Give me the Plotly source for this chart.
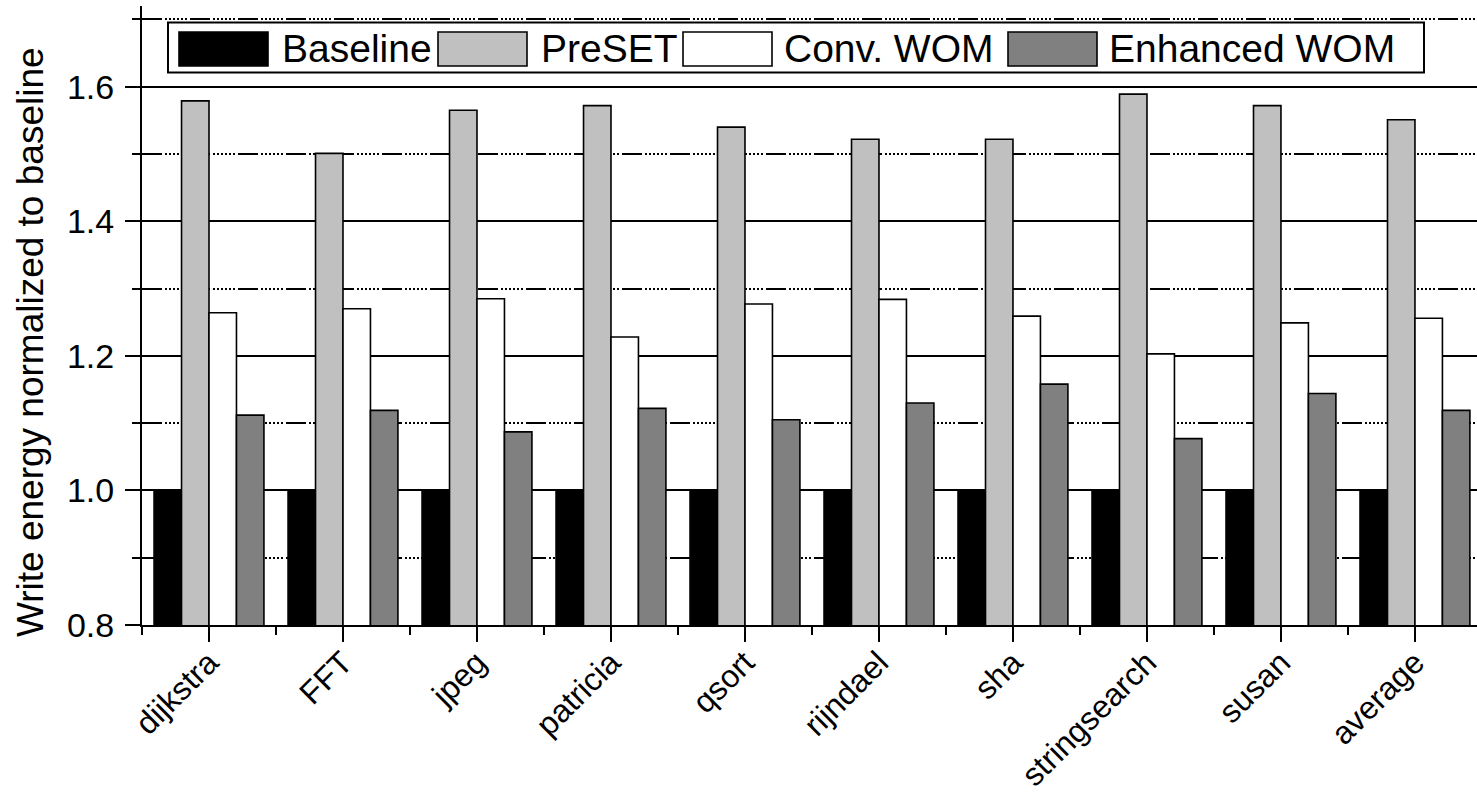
import plotly.graph_objects as go

categories = ["dijkstra", "FFT", "jpeg", "patricia", "qsort", "rijndael", "sha",
              "stringsearch", "susan", "average"]
series_names = ["Baseline", "PreSET", "Conv. WOM", "Enhanced WOM"]
baseline = [1.0, 1.0, 1.0, 1.0, 1.0, 1.0, 1.0, 1.0, 1.0, 1.0]
preset = [1.579, 1.501, 1.565, 1.572, 1.540, 1.522, 1.522, 1.589, 1.572, 1.551]
conv_wom = [1.264, 1.270, 1.285, 1.228, 1.277, 1.284, 1.259, 1.203, 1.249, 1.256]
enhanced_wom = [1.112, 1.119, 1.087, 1.122, 1.105, 1.130, 1.158, 1.077, 1.144, 1.119]
y_title = "Write energy normalized to baseline"

series_values = [baseline, preset, conv_wom, enhanced_wom]
colors = ["#000000", "#c0c0c0", "#ffffff", "#808080"]

FONT = "Liberation Sans, Arial, sans-serif"
W, H = 1477, 792
L, R, T, B = 142, 0, 6, 167
PW, PH = W - L - R, H - T - B

def px_x(p):
    return (p - L) / PW

def px_y(p):
    return (H - B - p) / PH

idx = list(range(len(categories)))

fig = go.Figure()
for name, vals, col in zip(series_names, series_values, colors):
    fig.add_trace(go.Bar(
        x=idx, y=vals, name=name,
        marker=dict(color=col, line=dict(color="#000000", width=1.6)),
        showlegend=False,
    ))

grid_dash = "20px,3px,2px,2px,2px,2px,2px,2px,2px,2px,2px,2px,2px,3px"

fig.update_layout(
    width=W, height=H,
    margin=dict(l=L, r=R, t=T, b=B, pad=0, autoexpand=False),
    paper_bgcolor="white", plot_bgcolor="white",
    barmode="group", bargap=0.18, bargroupgap=0,
    font=dict(family=FONT, color="black", size=33),
)

fig.update_xaxes(
    range=[-0.5, 9.463], automargin=False,
    tickmode="array", tickvals=idx, ticktext=categories,
    tickangle=-45,
    tickfont=dict(family=FONT, size=32, color="black"),
    ticklabelstandoff=-11,
    ticks="outside", ticklen=15, tickwidth=2, tickcolor="black",
    showline=True, linecolor="black", linewidth=2,
    showgrid=False, zeroline=False,
    minor=dict(tickmode="linear", tick0=-0.5, dtick=1, ticks="outside",
               ticklen=8, tickwidth=2, tickcolor="black", showgrid=False),
)

fig.update_yaxes(
    range=[0.8, 1.72], automargin=False,
    tickmode="linear", tick0=0.8, dtick=0.2, tickformat=".1f",
    tickfont=dict(family=FONT, size=34, color="black"),
    ticks="outside", ticklen=15, tickwidth=2, tickcolor="black",
    ticklabelstandoff=4,
    showline=True, linecolor="black", linewidth=2,
    showgrid=True, gridcolor="black", gridwidth=1.5,
    zeroline=False,
    minor=dict(tickmode="linear", tick0=0.8, dtick=0.1, ticks="outside",
               ticklen=8, tickwidth=2, tickcolor="black",
               showgrid=True, gridcolor="black", gridwidth=1.5,
               griddash=grid_dash),
)

# axis title
fig.add_annotation(
    text=y_title, xref="paper", yref="paper",
    x=px_x(30), y=px_y(342), xanchor="center", yanchor="middle",
    textangle=-90, showarrow=False,
    font=dict(family=FONT, size=37, color="black"),
)

# custom legend box
shapes = [dict(type="rect", xref="paper", yref="paper",
               x0=px_x(168), x1=px_x(1424), y0=px_y(72.5), y1=px_y(22.5),
               fillcolor="white", line=dict(color="black", width=2), layer="above")]
swatch_x = [179, 438, 683, 1008]
text_x = [280, 539, 782, 1107]
sw_w = 89
for name, col, sx, tx in zip(series_names, colors, swatch_x, text_x):
    shapes.append(dict(type="rect", xref="paper", yref="paper",
                       x0=px_x(sx), x1=px_x(sx + sw_w), y0=px_y(66), y1=px_y(32),
                       fillcolor=col, line=dict(color="black", width=1.6), layer="above"))
    fig.add_annotation(
        text=name, xref="paper", yref="paper",
        x=px_x(tx), y=px_y(48), xanchor="left", yanchor="middle",
        showarrow=False, font=dict(family=FONT, size=39, color="black"),
    )
fig.update_layout(shapes=shapes)

fig.write_html(
    "out.html",
    config={"displayModeBar": False},
    post_script="document.body.style.margin='0px';document.body.style.overflow='hidden';",
)
